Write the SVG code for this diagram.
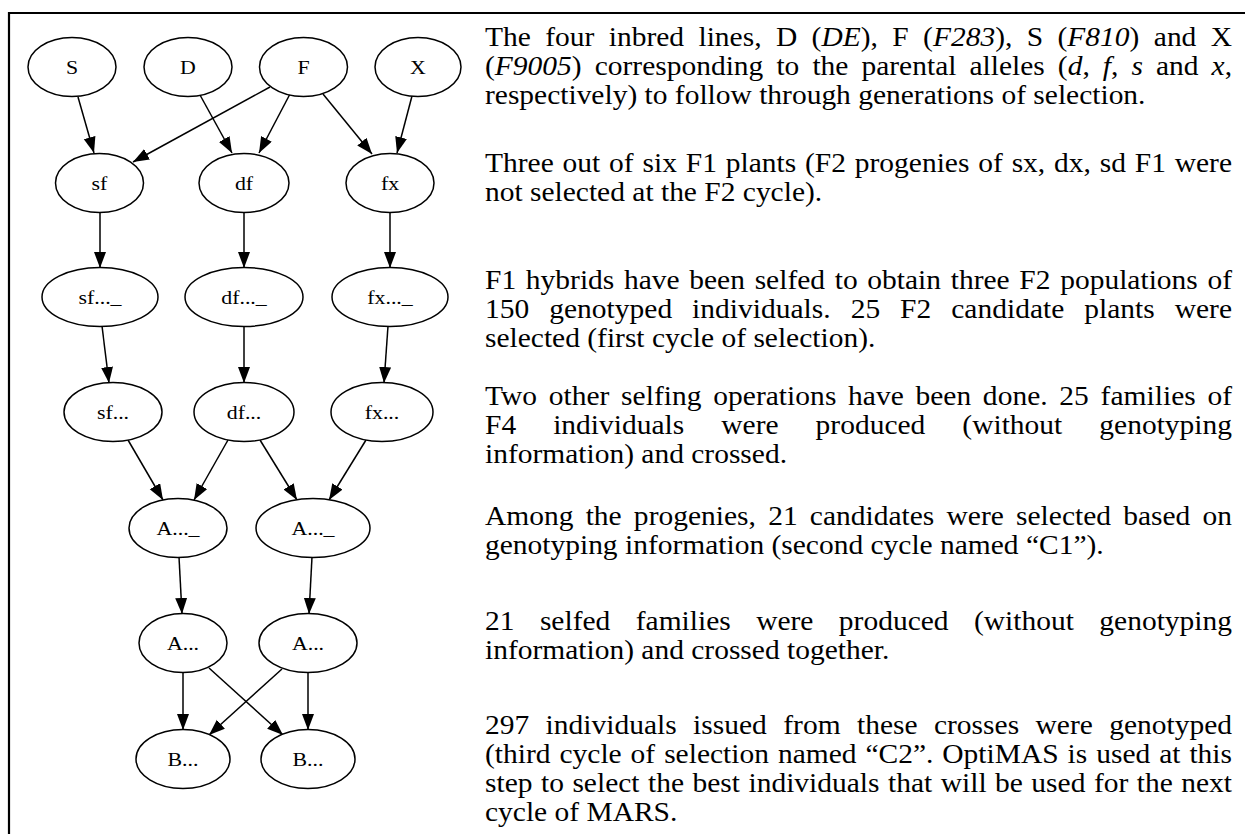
<svg xmlns="http://www.w3.org/2000/svg" width="1245" height="834" viewBox="0 0 1245 834">
<style>
.n ellipse{fill:#fff;stroke:#000;stroke-width:1.5}
.n text{font-family:"Liberation Serif","Times New Roman",serif;font-size:19px;text-anchor:middle;fill:#000}
.e line{stroke:#000;stroke-width:1.5;marker-end:url(#ah)}
.t{font-family:"Liberation Serif","Times New Roman",serif;font-size:26.5px;fill:#000}
.i{font-style:italic}
</style>
<defs>
<marker id="ah" markerUnits="userSpaceOnUse" markerWidth="17" markerHeight="13" refX="16" refY="6" orient="auto">
<path d="M0,0 L16,6 L0,12 z" fill="#000"/>
</marker>
</defs>
<rect width="1245" height="834" fill="#fff"/>
<g id="frame" stroke="#000" stroke-width="2.2" fill="none">
<line x1="8" y1="13" x2="1245" y2="13"/>
<line x1="9" y1="12" x2="9" y2="834"/>
</g>
<g id="connectors" class="e">
<line x1="78" y1="97" x2="94" y2="153"/>
<line x1="200" y1="95" x2="232" y2="153"/>
<line x1="290" y1="94" x2="259" y2="153"/>
<line x1="270" y1="87" x2="133" y2="162"/>
<line x1="323" y1="94" x2="372" y2="154"/>
<line x1="412" y1="96" x2="397" y2="153"/>
<line x1="100" y1="213" x2="100" y2="268"/>
<line x1="244" y1="213" x2="244" y2="268"/>
<line x1="390" y1="213" x2="390" y2="268"/>
<line x1="102" y1="326" x2="109" y2="383"/>
<line x1="244" y1="326" x2="244" y2="383"/>
<line x1="388" y1="326" x2="384" y2="383"/>
<line x1="128" y1="440" x2="163" y2="500"/>
<line x1="228" y1="440" x2="194" y2="500"/>
<line x1="260" y1="440" x2="297" y2="500"/>
<line x1="366" y1="440" x2="329" y2="500"/>
<line x1="179" y1="557" x2="182" y2="614"/>
<line x1="312" y1="557" x2="309" y2="614"/>
<line x1="183" y1="672" x2="183" y2="730"/>
<line x1="209" y1="668" x2="283" y2="735"/>
<line x1="282" y1="669" x2="209" y2="735"/>
<line x1="308" y1="672" x2="308" y2="730"/>
</g>
<g id="S" class="n"><ellipse cx="72" cy="67" rx="44" ry="29.5"/><text transform="translate(72 73.5) scale(1.15 1)">S</text></g>
<g id="D" class="n"><ellipse cx="188" cy="67" rx="44" ry="29.5"/><text transform="translate(188 73.5) scale(1.15 1)">D</text></g>
<g id="F" class="n"><ellipse cx="303.5" cy="67" rx="44" ry="29.5"/><text transform="translate(303.5 73.5) scale(1.15 1)">F</text></g>
<g id="X" class="n"><ellipse cx="418" cy="67" rx="43" ry="29.5"/><text transform="translate(418 73.5) scale(1.15 1)">X</text></g>
<g id="sf" class="n"><ellipse cx="99.5" cy="183" rx="44" ry="29.5"/><text transform="translate(99.5 189.5) scale(1.15 1)">sf</text></g>
<g id="df" class="n"><ellipse cx="244" cy="183" rx="45" ry="29.5"/><text transform="translate(244 189.5) scale(1.15 1)">df</text></g>
<g id="fx" class="n"><ellipse cx="390" cy="183" rx="44" ry="29.5"/><text transform="translate(390 189.5) scale(1.15 1)">fx</text></g>
<g id="sf2" class="n"><ellipse cx="100" cy="297" rx="58" ry="29.5"/><text transform="translate(100 303.5) scale(1.15 1)">sf..._</text></g>
<g id="df2" class="n"><ellipse cx="244" cy="297" rx="59" ry="29.5"/><text transform="translate(244 303.5) scale(1.15 1)">df..._</text></g>
<g id="fx2" class="n"><ellipse cx="390" cy="297" rx="58" ry="29.5"/><text transform="translate(390 303.5) scale(1.15 1)">fx..._</text></g>
<g id="sf3" class="n"><ellipse cx="113" cy="412" rx="49" ry="29.5"/><text transform="translate(113 418.5) scale(1.15 1)">sf...</text></g>
<g id="df3" class="n"><ellipse cx="244" cy="412" rx="50" ry="29.5"/><text transform="translate(244 418.5) scale(1.15 1)">df...</text></g>
<g id="fx3" class="n"><ellipse cx="382" cy="412" rx="51" ry="29.5"/><text transform="translate(382 418.5) scale(1.15 1)">fx...</text></g>
<g id="A1L" class="n"><ellipse cx="178" cy="528" rx="49" ry="29.5"/><text transform="translate(178 534.5) scale(1.15 1)">A..._</text></g>
<g id="A1R" class="n"><ellipse cx="313" cy="528" rx="57" ry="29.5"/><text transform="translate(313 534.5) scale(1.15 1)">A..._</text></g>
<g id="A2L" class="n"><ellipse cx="183" cy="643" rx="44" ry="29.5"/><text transform="translate(183 649.5) scale(1.15 1)">A...</text></g>
<g id="A2R" class="n"><ellipse cx="308" cy="643" rx="49" ry="29.5"/><text transform="translate(308 649.5) scale(1.15 1)">A...</text></g>
<g id="BL" class="n"><ellipse cx="183" cy="759" rx="47" ry="29.5"/><text transform="translate(183 765.5) scale(1.15 1)">B...</text></g>
<g id="BR" class="n"><ellipse cx="308" cy="759" rx="47" ry="29.5"/><text transform="translate(308 765.5) scale(1.15 1)">B...</text></g>
<g id="description" class="t" transform="translate(485 0) scale(1.113 1)">
<text x="0" y="46" word-spacing="6.3" textLength="671.2" lengthAdjust="spacing">The four inbred lines, D (<tspan class="i">DE</tspan>), F (<tspan class="i">F283</tspan>), S (<tspan class="i">F810</tspan>) and X</text>
<text x="0" y="75" word-spacing="5.1" textLength="671.2" lengthAdjust="spacing">(<tspan class="i">F9005</tspan>) corresponding to the parental alleles (<tspan class="i">d</tspan>, <tspan class="i">f</tspan>, <tspan class="i">s</tspan> and <tspan class="i">x</tspan>,</text>
<text x="0" y="104">respectively) to follow through generations of selection.</text>
<text x="0" y="172" word-spacing="1.3" textLength="671.2" lengthAdjust="spacing">Three out of six F1 plants (F2 progenies of sx, dx, sd F1 were</text>
<text x="0" y="201">not selected at the F2 cycle).</text>
<text x="0" y="289" word-spacing="2.1" textLength="671.2" lengthAdjust="spacing">F1 hybrids have been selfed to obtain three F2 populations of</text>
<text x="0" y="318" word-spacing="11.3" textLength="671.2" lengthAdjust="spacing">150 genotyped individuals. 25 F2 candidate plants were</text>
<text x="0" y="347">selected (first cycle of selection).</text>
<text x="0" y="405" word-spacing="3.8" textLength="671.2" lengthAdjust="spacing">Two other selfing operations have been done. 25 families of</text>
<text x="0" y="434" word-spacing="26.6" textLength="671.2" lengthAdjust="spacing">F4 individuals were produced (without genotyping</text>
<text x="0" y="463">information) and crossed.</text>
<text x="0" y="525" word-spacing="4.3" textLength="671.2" lengthAdjust="spacing">Among the progenies, 21 candidates were selected based on</text>
<text x="0" y="554">genotyping information (second cycle named “C1”).</text>
<text x="0" y="630" word-spacing="16.2" textLength="671.2" lengthAdjust="spacing">21 selfed families were produced (without genotyping</text>
<text x="0" y="659">information) and crossed together.</text>
<text x="0" y="734" word-spacing="8.1" textLength="671.2" lengthAdjust="spacing">297 individuals issued from these crosses were genotyped</text>
<text x="0" y="763" word-spacing="1.4" textLength="671.2" lengthAdjust="spacing">(third cycle of selection named “C2”. OptiMAS is used at this</text>
<text x="0" y="792" word-spacing="1" textLength="671.2" lengthAdjust="spacing">step to select the best individuals that will be used for the next</text>
<text x="0" y="821">cycle of MARS.</text>
</g>
</svg>
